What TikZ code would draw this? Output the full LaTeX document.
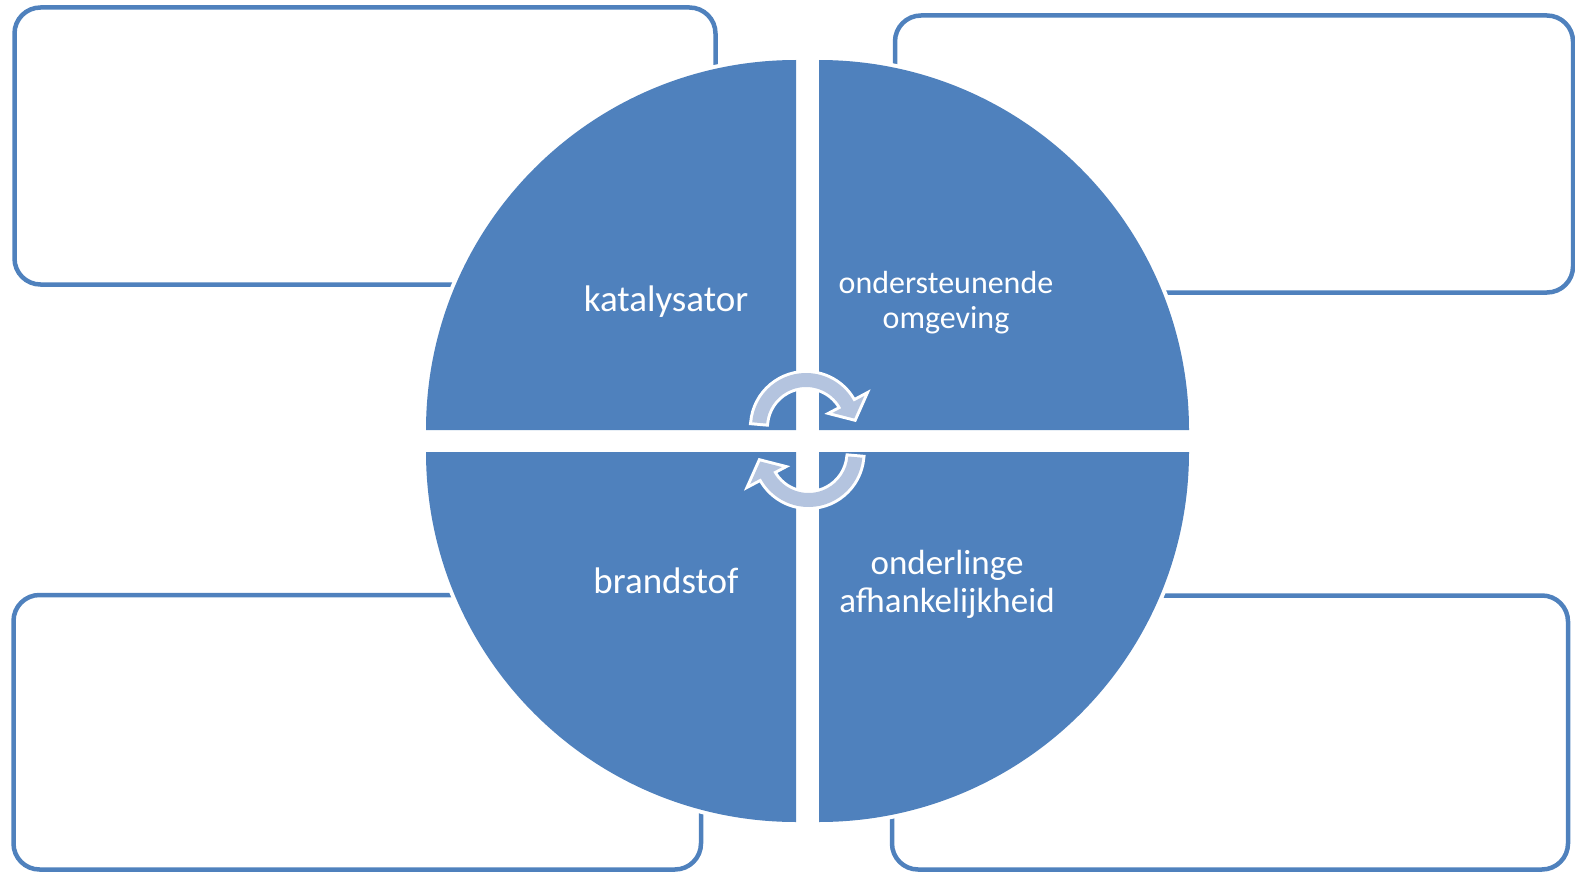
\documentclass[tikz,border=0pt]{standalone}
\usepackage{fontspec}
\setmainfont{Carlito}
\definecolor{qblue}{HTML}{4F81BD}
\definecolor{ablue}{HTML}{B4C4DF}
\begin{document}
\begin{tikzpicture}[x=1pt,y=-1pt,
  box/.style={draw=qblue, line width=4.5pt, rounded corners=26pt, inner sep=0pt, outer sep=0pt},
  quad/.style={fill=qblue, preaction={draw=white, line width=8pt}},
  cyc/.style={fill=ablue, preaction={draw=white, line width=6pt, line join=miter}},
  lbl/.style={text=white, align=center}]
\useasboundingbox (0,0) rectangle (1575,875);
% side boxes
\node[box, minimum width=701pt, minimum height=277pt] (boxTL) at (365,146) {};
\node[box, minimum width=678pt, minimum height=277pt] (boxTR) at (1234,154) {};
\node[box, minimum width=687.5pt, minimum height=274.5pt] (boxBL) at (357.25,732.25) {};
\node[box, minimum width=676pt, minimum height=274pt] (boxBR) at (1230,732.5) {};
% quadrants
\path[quad] (796,430) -- (426,430) arc[start angle=180, end angle=270, radius=370] -- cycle;
\path[quad] (819,430) -- (819,60) arc[start angle=270, end angle=360, radius=370] -- cycle;
\path[quad] (819,452) -- (1189,452) arc[start angle=0, end angle=90, radius=370] -- cycle;
\path[quad] (796,452) -- (796,822) arc[start angle=90, end angle=180, radius=370] -- cycle;
% circular arrows
\begin{scope}[shift={(806,427)}]
\path[cyc] (185:54) arc[start angle=185, end angle=332, radius=54] -- (332:66) -- (350:49) -- (332:30) -- (332:40) arc[start angle=332, end angle=185, radius=40] -- cycle;
\end{scope}
\begin{scope}[shift={(808.5,453)}, rotate=180]
\path[cyc] (185:54) arc[start angle=185, end angle=332, radius=54] -- (332:66) -- (350:49) -- (332:30) -- (332:40) arc[start angle=332, end angle=185, radius=40] -- cycle;
\end{scope}
% labels
\node[lbl, font=\fontsize{37}{44}\selectfont] (kat) at (666,302) {katalysator};
\node[lbl, font=\fontsize{32}{35}\selectfont] (ond) at (946,303) {ondersteunende\\omgeving};
\node[lbl, font=\fontsize{37}{44}\selectfont] (bra) at (666,581) {brandstof};
\node[lbl, font=\fontsize{35}{38}\selectfont] (onl) at (947,584) {onderlinge\\afhankelijkheid};
\end{tikzpicture}
\end{document}
